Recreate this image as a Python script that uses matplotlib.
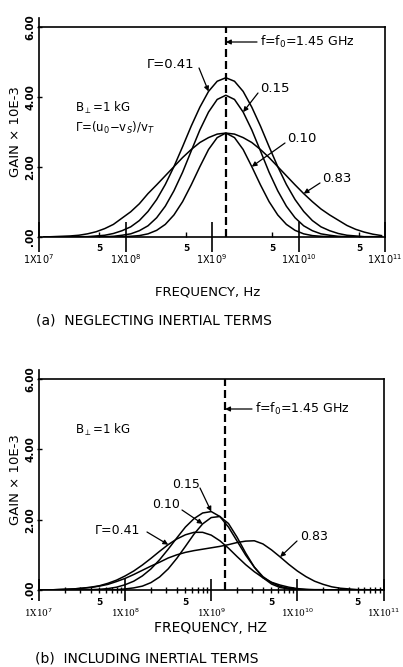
import numpy as np
import matplotlib
matplotlib.use("Agg")
import matplotlib.pyplot as plt

# gain (x 1e-3), against log10(frequency / Hz)

# (a) neglecting inertial terms
logf_a = [7.06, 7.16, 7.26, 7.36, 7.46, 7.56, 7.66, 7.76, 7.86, 7.96,
          8.06, 8.16, 8.26, 8.36, 8.46, 8.56, 8.66, 8.76, 8.86, 8.96,
          9.06, 9.16, 9.26, 9.36, 9.46, 9.56, 9.66, 9.76, 9.86, 9.96,
          10.06, 10.16, 10.26, 10.36, 10.46, 10.56, 10.66, 10.76, 10.86, 10.96]
gain_a_041 = [0.00, 0.00, 0.00, 0.00, 0.01, 0.01, 0.03, 0.05, 0.10, 0.18,
              0.29, 0.47, 0.73, 1.07, 1.50, 2.01, 2.58, 3.17, 3.71, 4.16,
              4.45, 4.55, 4.45, 4.16, 3.71, 3.17, 2.58, 2.01, 1.50, 1.07,
              0.73, 0.47, 0.29, 0.18, 0.10, 0.05, 0.03, 0.01, 0.01, 0.00]
gain_a_015 = [0.00, 0.00, 0.00, 0.00, 0.00, 0.00, 0.00, 0.01, 0.02, 0.05,
              0.09, 0.18, 0.32, 0.55, 0.88, 1.32, 1.85, 2.46, 3.06, 3.57,
              3.93, 4.05, 3.93, 3.57, 3.06, 2.46, 1.85, 1.32, 0.88, 0.55,
              0.32, 0.18, 0.09, 0.05, 0.02, 0.01, 0.00, 0.00, 0.00, 0.00]
gain_a_010 = [0.00, 0.00, 0.00, 0.00, 0.00, 0.00, 0.00, 0.00, 0.00, 0.01,
              0.02, 0.04, 0.09, 0.19, 0.36, 0.63, 1.01, 1.49, 2.01, 2.50,
              2.84, 2.97, 2.84, 2.50, 2.01, 1.49, 1.01, 0.63, 0.36, 0.19,
              0.09, 0.04, 0.02, 0.01, 0.00, 0.00, 0.00, 0.00, 0.00, 0.00]
gain_a_083 = [0.00, 0.01, 0.02, 0.03, 0.05, 0.09, 0.15, 0.24, 0.36, 0.54,
              0.72, 0.95, 1.24, 1.49, 1.75, 2.01, 2.27, 2.50, 2.70, 2.84,
              2.94, 2.97, 2.94, 2.84, 2.70, 2.50, 2.27, 2.01, 1.75, 1.49,
              1.24, 1.01, 0.80, 0.63, 0.48, 0.33, 0.22, 0.14, 0.08, 0.04]

# (b) including inertial terms
logf_b = [7.0, 7.1, 7.2, 7.3, 7.4, 7.5, 7.6, 7.7, 7.8, 7.9,
          8.0, 8.1, 8.2, 8.3, 8.4, 8.5, 8.6, 8.7, 8.8, 8.9,
          9.0, 9.1, 9.2, 9.3, 9.4, 9.5, 9.6, 9.7, 9.8, 9.9,
          10.0, 10.1, 10.2, 10.3, 10.4, 10.5, 10.6, 10.7, 10.8, 10.9, 11.0]
gain_b_041 = [0.00, 0.00, 0.01, 0.02, 0.03, 0.05, 0.08, 0.12, 0.19, 0.28,
              0.40, 0.54, 0.71, 0.90, 1.10, 1.29, 1.45, 1.57, 1.64, 1.64,
              1.56, 1.40, 1.19, 0.95, 0.72, 0.52, 0.35, 0.22, 0.14, 0.08,
              0.04, 0.02, 0.01, 0.01, 0.00, 0.00, 0.00, 0.00, 0.00, 0.00, 0.00]
gain_b_015 = [0.00, 0.00, 0.00, 0.00, 0.00, 0.00, 0.01, 0.02, 0.04, 0.08,
              0.15, 0.25, 0.40, 0.60, 0.86, 1.16, 1.48, 1.79, 2.03, 2.19,
              2.23, 2.09, 1.79, 1.39, 0.99, 0.65, 0.38, 0.21, 0.10, 0.05,
              0.02, 0.01, 0.00, 0.00, 0.00, 0.00, 0.00, 0.00, 0.00, 0.00, 0.00]
gain_b_010 = [0.00, 0.00, 0.00, 0.00, 0.00, 0.00, 0.00, 0.00, 0.00, 0.01,
              0.03, 0.06, 0.11, 0.21, 0.37, 0.60, 0.90, 1.24, 1.59, 1.88,
              2.06, 2.09, 1.89, 1.50, 1.05, 0.65, 0.35, 0.17, 0.07, 0.03,
              0.01, 0.00, 0.00, 0.00, 0.00, 0.00, 0.00, 0.00, 0.00, 0.00, 0.00]
gain_b_083 = [0.00, 0.00, 0.01, 0.02, 0.03, 0.05, 0.07, 0.11, 0.16, 0.24,
              0.33, 0.44, 0.56, 0.68, 0.79, 0.91, 1.00, 1.07, 1.12, 1.16,
              1.20, 1.24, 1.29, 1.35, 1.39, 1.40, 1.31, 1.14, 0.94, 0.73,
              0.54, 0.38, 0.25, 0.16, 0.09, 0.05, 0.03, 0.01, 0.01, 0.00, 0.00]

f0 = 1.45e9
decades = [1e7, 1e8, 1e9, 1e10, 1e11]
decade_labels = ["1X10$^{7}$", "1X10$^{8}$", "1X10$^{9}$", "1X10$^{10}$", "1X10$^{11}$"]
yticks = [0, 2, 4, 6]
ytick_labels = [".00", "2.00", "4.00", "6.00"]

W, H = 403, 667


def fx(x):
    return x / W


def fy(y):
    return 1 - y / H


def setup(ax):
    ax.set_xscale("log")
    ax.set_xlim(1e7, 1e11)
    ax.set_ylim(0, 6)
    for s in ax.spines.values():
        s.set_linewidth(1.2)
    ax.set_yticks(yticks, ytick_labels, rotation=90, va="center",
                  fontsize=7.5, fontweight="bold")
    ax.tick_params(axis="y", direction="inout", length=3.6, width=1, pad=1)
    ax.plot([0, 0], [1, 1.045], transform=ax.transAxes, color="k", lw=1.2,
            clip_on=False)
    ax.axvline(f0, color="k", lw=1.6, ls=(0, (3.6, 1.8)))


def arrow(ax, xy, x0, y0):
    ax.annotate("", xy=xy, xytext=(fx(x0), fy(y0)), textcoords="figure fraction",
                arrowprops=dict(arrowstyle="-|>", color="k", lw=0.9,
                                mutation_scale=7, shrinkA=0, shrinkB=0))


fig = plt.figure(figsize=(W / 100, H / 100), dpi=100)

# ---------- (a)
ax = fig.add_axes([fx(39), fy(237), (385 - 39) / W, (237 - 27) / H])
setup(ax)
fa = 10 ** np.array(logf_a)
for g in (gain_a_041, gain_a_015, gain_a_010, gain_a_083):
    ax.plot(fa, g, color="k", lw=1.1)

ax.set_xticks(decades, decade_labels, fontsize=7)
ax.tick_params(axis="x", which="major", direction="inout", length=21, width=1.2, pad=0.5)
ax.set_xticks([5e7, 5e8, 5e9, 5e10], ["5"] * 4, minor=True, fontsize=6.5,
              fontweight="bold")
ax.tick_params(axis="x", which="minor", direction="in", length=3.6, width=1, pad=5)

fig.text(fx(147), fy(65), "Γ=0.41", ha="left", va="center", fontsize=9.5)
arrow(ax, (fa[19], gain_a_041[19]), 199, 68)
fig.text(fx(260), fy(89), "0.15", ha="left", va="center", fontsize=9.5)
arrow(ax, (fa[23], gain_a_015[23]), 258, 93)
fig.text(fx(287), fy(138), "0.10", ha="left", va="center", fontsize=9.5)
arrow(ax, (fa[24], gain_a_010[24]), 285, 143)
fig.text(fx(322), fy(178), "0.83", ha="left", va="center", fontsize=9.5)
arrow(ax, (fa[30], gain_a_083[30]), 320, 183)
fig.text(fx(260), fy(42), "f=f$_0$=1.45 GHz", ha="left", va="center", fontsize=9)
ax.annotate("", xy=(f0, (237 - 42) / 210), xycoords=("data", "axes fraction"),
            xytext=(fx(257), fy(42)), textcoords="figure fraction",
            arrowprops=dict(arrowstyle="-|>", color="k", lw=0.9,
                            mutation_scale=7, shrinkA=0, shrinkB=0))
fig.text(fx(75), fy(108), "B$_\\perp$=1 kG", ha="left", va="center", fontsize=8.5)
fig.text(fx(75), fy(128), "Γ=(u$_0$−v$_S$)/v$_T$", ha="left", va="center", fontsize=8.5)

fig.text(fx(16), fy(132), "GAIN × 10E-3", rotation=90, ha="center", va="center", fontsize=9.5)
fig.text(fx(208), fy(292), "FREQUENCY, Hz", ha="center", va="center", fontsize=9.5)
fig.text(fx(36), fy(320), "(a)  NEGLECTING INERTIAL TERMS", ha="left", va="center", fontsize=10)

# ---------- (b)
ax = fig.add_axes([fx(39), fy(590), (383.5 - 39) / W, (590 - 379) / H])
setup(ax)
fb = 10 ** np.array(logf_b)
for g in (gain_b_041, gain_b_015, gain_b_010, gain_b_083):
    ax.plot(fb, g, color="k", lw=1.1)

ax.set_xticks(decades, decade_labels, fontsize=6.5, family="DejaVu Serif")
ax.tick_params(axis="x", which="major", direction="inout", length=16.5, width=1.2, pad=3.5)
minor_pos = [k * 10.0 ** n for n in range(7, 11) for k in range(2, 10)]
minor_lab = ["5" if round(p / 10 ** np.floor(np.log10(p))) == 5 else "" for p in minor_pos]
ax.set_xticks(minor_pos, minor_lab, minor=True, fontsize=6.5, fontweight="bold")
ax.tick_params(axis="x", which="minor", direction="inout", length=4.3, width=1, pad=3.6)

fig.text(fx(172), fy(485), "0.15", ha="left", va="center", fontsize=9)
arrow(ax, (fb[20], gain_b_015[20]), 200, 488)
fig.text(fx(152), fy(505), "0.10", ha="left", va="center", fontsize=9)
arrow(ax, (fb[19], gain_b_010[19]), 182, 510)
fig.text(fx(95), fy(530), "Γ=0.41", ha="left", va="center", fontsize=9)
arrow(ax, (fb[15], gain_b_041[15]), 147, 532)
fig.text(fx(300), fy(537), "0.83", ha="left", va="center", fontsize=9)
arrow(ax, (fb[28], gain_b_083[28]), 297, 541)
fig.text(fx(255), fy(409), "f=f$_0$=1.45 GHz", ha="left", va="center", fontsize=9)
ax.annotate("", xy=(f0, (590 - 409) / 211), xycoords=("data", "axes fraction"),
            xytext=(fx(252), fy(409)), textcoords="figure fraction",
            arrowprops=dict(arrowstyle="-|>", color="k", lw=0.9,
                            mutation_scale=7, shrinkA=0, shrinkB=0))
fig.text(fx(75), fy(430), "B$_\\perp$=1 kG", ha="left", va="center", fontsize=8.5)

fig.text(fx(16), fy(480), "GAIN × 10E-3", rotation=90, ha="center", va="center", fontsize=9.5)
fig.text(fx(211), fy(628), "FREQUENCY, HZ", ha="center", va="center", fontsize=10)
fig.text(fx(35), fy(658), "(b)  INCLUDING INERTIAL TERMS", ha="left", va="center", fontsize=10)

fig.savefig("out.png", dpi=100)
